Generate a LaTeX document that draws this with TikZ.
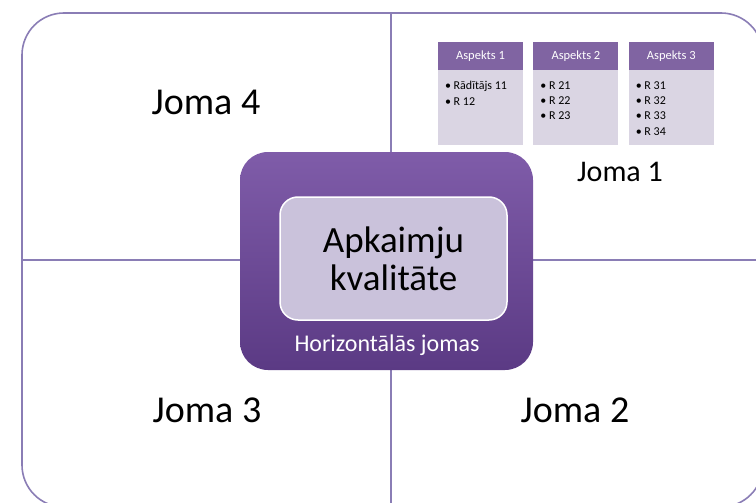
\documentclass[tikz,border=0pt]{standalone}
\usepackage{fontspec}
\setmainfont{Carlito}
\usetikzlibrary{positioning,chains}
\definecolor{frameline}{HTML}{8A7DB5}
\definecolor{hubtop}{HTML}{7F5CA9}
\definecolor{hubbottom}{HTML}{5B3A84}
\definecolor{corefill}{HTML}{CAC2DB}
\definecolor{headfill}{HTML}{8064A2}
\definecolor{bodyfill}{HTML}{DAD5E3}
\newcommand{\rlist}[1]{\parbox[t][53pt][t]{71pt}{#1}}

\begin{document}
\begin{tikzpicture}[x=1pt,y=-1pt,
  joma/.style={font=\fontsize{38}{40}\selectfont,anchor=base},
  aspekts/.style={fill=headfill,text=white,minimum width=85pt,minimum height=28pt,inner sep=0pt,font=\fontsize{12.5}{14}\selectfont},
  rbox/.style={fill=bodyfill,minimum width=85pt,minimum height=75pt,inner xsep=7pt,inner ysep=11pt,font=\fontsize{12}{15.3}\selectfont}]
\useasboundingbox (0,0) rectangle (756,503);
\clip (0,0) rectangle (756,503);
% frame and the four fields
\draw[frameline,line width=1.6pt,rounded corners=42pt] (22,13) rectangle (763,507);
\draw[frameline,line width=1.3pt] (391,13) -- (391,507) (22,260) -- (763,260);

\node[joma] (j4) at (206,115) {Joma 4};
\node[joma,font=\fontsize{30}{32}\selectfont] (j1) at (620,181) {Joma 1};
\node[joma] (j3) at (207,422) {Joma 3};
\node[joma] (j2) at (575,422) {Joma 2};

% centre
\node[rounded corners=28pt,minimum width=293pt,minimum height=218pt,top color=hubtop,bottom color=hubbottom] (hub) at (386.5,261) {};
\node[rounded corners=18pt,minimum width=227pt,minimum height=123pt,fill=corefill,draw=white,line width=1.5pt,align=center,font=\fontsize{37}{38}\selectfont] (core) at (393.5,258.5) {Apkaimju\\kvalitāte};
\node[text=white,font=\fontsize{24}{26}\selectfont] (horiz) at (387,345) {Horizontālās jomas};

% aspects of Joma 1
\path[start chain=A going right,node distance=10pt,nodes={on chain,aspekts}]
    node (a1) at (480.5,56) {Aspekts 1}
    node (a2) {Aspekts 2}
    node (a3) {Aspekts 3};
\node[rbox,below=0pt of a1] (r1) {\rlist{•\ Rādītājs 11\\•\ R 12}};
\node[rbox,below=0pt of a2] (r2) {\rlist{•\ R 21\\•\ R 22\\•\ R 23}};
\node[rbox,below=0pt of a3] (r3) {\rlist{•\ R 31\\•\ R 32\\•\ R 33\\•\ R 34}};
\end{tikzpicture}
\end{document}
